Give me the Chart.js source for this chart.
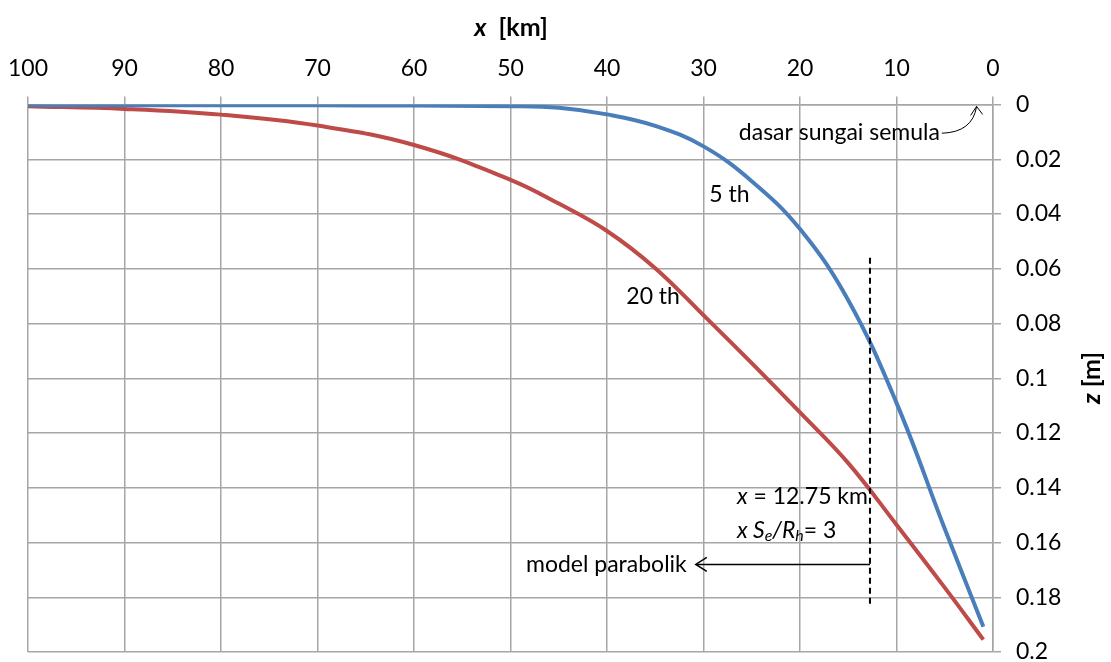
<!DOCTYPE html>
<html><head><meta charset="utf-8">
<script src="https://cdn.jsdelivr.net/npm/chart.js@4/dist/chart.umd.min.js"></script>
<style>html,body{margin:0;padding:0;background:#fff;overflow:hidden}</style>
</head><body>
<canvas id="c" width="1111" height="662"></canvas>
<script>
// ---- data (x in km, z in m) ----
const xKm5 = [100, 90, 80, 70, 60, 50, 45, 40, 35, 30, 25, 20, 15, 10, 5, 1];
const z5   = [0.0003, 0.0003, 0.0003, 0.0003, 0.0004, 0.0006, 0.0012, 0.0036, 0.0078, 0.0153, 0.028, 0.0455, 0.0715, 0.109, 0.155, 0.1908];
const xKm20 = [100, 90, 80, 70, 60, 50, 45, 40, 35, 30, 25, 20, 15, 10, 5, 1];
const z20   = [0.0006, 0.0016, 0.0037, 0.0077, 0.0148, 0.0275, 0.0362, 0.0462, 0.0598, 0.077, 0.0945, 0.1125, 0.131, 0.1535, 0.1765, 0.1955];
const seriesNames = ['5 th', '20 th'];
const xTickValues = [100, 90, 80, 70, 60, 50, 40, 30, 20, 10, 0];
const yTickValues = [0, 0.02, 0.04, 0.06, 0.08, 0.1, 0.12, 0.14, 0.16, 0.18, 0.2];
const xCut = 12.75;

const FONT = 'Lato, "Open Sans", sans-serif';
const toPts = (xs, ys) => xs.map((x, i) => ({x: x, y: ys[i]}));

function measureRuns(ctx, runs) {
  let w = 0;
  runs.forEach(r => { ctx.font = r.font; w += ctx.measureText(r.t).width; });
  return w;
}
function drawRuns(ctx, runs, x, y, align) {
  const w = measureRuns(ctx, runs);
  let cx = align === 'right' ? x - w : (align === 'center' ? x - w / 2 : x);
  ctx.textBaseline = 'middle';
  ctx.textAlign = 'left';
  runs.forEach(r => {
    ctx.font = r.font;
    ctx.fillText(r.t, cx, y + (r.dy || 0));
    cx += ctx.measureText(r.t).width;
  });
  return w;
}

const annot = {
  id: 'annot',
  afterDraw(chart) {
    const ctx = chart.ctx;
    const sx = chart.scales.x, sy = chart.scales.y;
    const X = v => sx.getPixelForValue(v), Y = v => sy.getPixelForValue(v);
    ctx.save();
    ctx.fillStyle = '#000';
    ctx.strokeStyle = '#000';
    // x axis title
    drawRuns(ctx, [
      {t: 'x', font: 'italic bold 25px ' + FONT},
      {t: '  [km]', font: 'bold 25px ' + FONT}
    ], 511, 28, 'center');
    // y axis title (rotated)
    ctx.save();
    ctx.translate(1092, 378);
    ctx.rotate(-Math.PI / 2);
    drawRuns(ctx, [
      {t: 'z', font: 'italic bold 25px ' + FONT},
      {t: ' [m]', font: 'bold 25px ' + FONT}
    ], 0, 0, 'center');
    ctx.restore();

    // series labels
    const f = '23px ' + FONT, fi = 'italic 23px ' + FONT, fs = 'italic 16px ' + FONT;
    drawRuns(ctx, [{t: seriesNames[0], font: f}], X(29.4), Y(0.033), 'left');
    drawRuns(ctx, [{t: seriesNames[1], font: f}], X(38.0), Y(0.0703), 'left');

    // dasar sungai semula with curved arrow
    drawRuns(ctx, [{t: 'dasar sungai semula', font: f}], X(5.5), Y(0.0104), 'right');
    ctx.lineWidth = 1;
    ctx.beginPath();
    const sx0 = X(5.3), sy0 = Y(0.0105);
    const tx = X(1.7), ty = Y(0.0007);
    ctx.moveTo(sx0, sy0);
    ctx.quadraticCurveTo(tx - 4, sy0 - 1, tx, ty);
    ctx.stroke();
    ctx.beginPath();
    ctx.moveTo(tx - 6, ty + 9);
    ctx.lineTo(tx, ty);
    ctx.lineTo(tx + 6, ty + 8);
    ctx.stroke();

    // dashed vertical line
    ctx.lineWidth = 2;
    ctx.setLineDash([6, 4]);
    ctx.beginPath();
    ctx.moveTo(X(xCut), Y(0.056));
    ctx.lineTo(X(xCut), Y(0.183));
    ctx.stroke();
    ctx.setLineDash([]);

    // texts near dashed line
    const line1 = [{t: 'x', font: fi}, {t: ' = 12.75 km', font: f}];
    const w1 = drawRuns(ctx, line1, X(xCut) - 2, Y(0.1433), 'right');
    drawRuns(ctx, [
      {t: 'x S', font: fi},
      {t: 'e', font: fs, dy: 6},
      {t: '/R', font: fi},
      {t: 'h', font: fs, dy: 6},
      {t: '= 3', font: f}
    ], X(xCut) - 2 - w1, Y(0.1555), 'left');

    // model parabolik arrow
    ctx.lineWidth = 1.5;
    const ay = Y(0.168);
    const ax1 = X(xCut), ax0 = X(30.8);
    ctx.beginPath();
    ctx.moveTo(ax1, ay);
    ctx.lineTo(ax0, ay);
    ctx.stroke();
    ctx.beginPath();
    ctx.moveTo(ax0 + 11, ay - 7);
    ctx.lineTo(ax0, ay);
    ctx.lineTo(ax0 + 11, ay + 7);
    ctx.stroke();
    drawRuns(ctx, [{t: 'model parabolik', font: f}], ax0 - 9, ay, 'right');
    ctx.restore();
  }
};

const gridColor = '#a6a6a6';
const noOverhang = s => { s.paddingLeft = 0; s.paddingRight = 0; s.paddingTop = 0; s.paddingBottom = 0; };
new Chart(document.getElementById('c'), {
  type: 'line',
  data: {
    datasets: [
      {label: seriesNames[0], data: toPts(xKm5, z5), borderColor: '#4a7ebb', borderWidth: 4, pointRadius: 0, tension: 0.4, fill: false},
      {label: seriesNames[1], data: toPts(xKm20, z20), borderColor: '#be4b48', borderWidth: 4, pointRadius: 0, tension: 0.4, fill: false}
    ]
  },
  options: {
    responsive: false,
    animation: false,
    devicePixelRatio: 1,
    layout: {padding: {left: 28, top: 0, bottom: 10, right: 0}},
    plugins: {legend: {display: false}, tooltip: {enabled: false}},
    scales: {
      x: {
        type: 'linear', position: 'top', reverse: true, min: 0, max: 100,
        afterBuildTicks: s => { s.ticks = xTickValues.map(v => ({value: v})); },
        afterFit: s => { s.height = 104.5; noOverhang(s); },
        grid: {color: gridColor, lineWidth: 1.5, tickLength: 8, drawTicks: true},
        border: {color: gridColor, width: 1.5},
        ticks: {color: '#000', font: {family: FONT, size: 23}, padding: 14, maxRotation: 0}
      },
      y: {
        type: 'linear', position: 'right', reverse: true, min: 0, max: 0.2,
        afterBuildTicks: s => { s.ticks = yTickValues.map(v => ({value: v})); },
        afterFit: s => { s.width = 118; noOverhang(s); },
        grid: {color: gridColor, lineWidth: 1.5, tickLength: 8, drawTicks: true},
        border: {color: gridColor, width: 1.5},
        ticks: {color: '#000', font: {family: FONT, size: 23}, padding: 15,
          callback: v => String(Number(v.toFixed(2)))}
      }
    }
  },
  plugins: [annot]
});
</script>
</body></html>
